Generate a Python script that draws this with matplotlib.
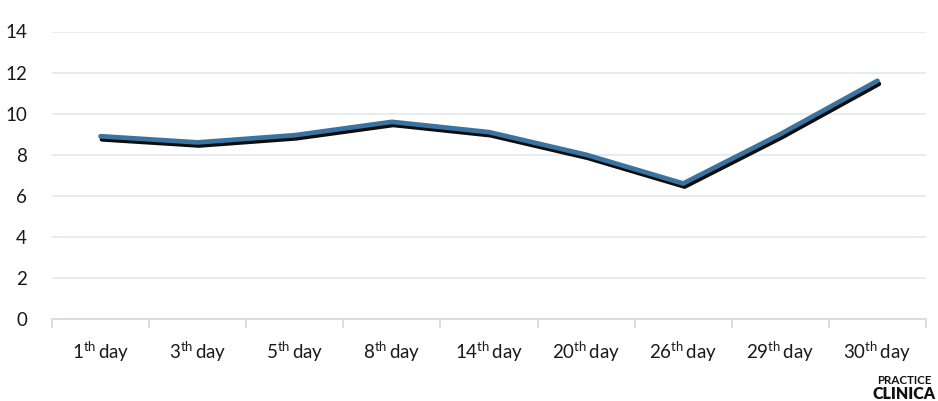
import matplotlib.pyplot as plt
import matplotlib.patheffects as pe
import numpy as np

plt.rcParams['font.family'] = ['Lato', 'DejaVu Sans']
plt.rcParams['mathtext.fontset'] = 'custom'
plt.rcParams['mathtext.rm'] = 'Lato'
plt.rcParams['mathtext.it'] = 'Lato:italic'
plt.rcParams['mathtext.bf'] = 'Lato:bold'

# Day labels and measured values
days = ["1", "3", "5", "8", "14", "20", "26", "29", "30"]
values = [8.9, 8.6, 8.95, 9.6, 9.1, 8.0, 6.6, 9.0, 11.6]
y_ticks = [0, 2, 4, 6, 8, 10, 12, 14]

fig = plt.figure(figsize=(9.38, 4.01), dpi=100)
ax = fig.add_axes([52 / 938, 1 - 319 / 401, (926 - 52) / 938, (319 - 31.5) / 401])

x = np.arange(len(days))
ax.plot(x, values, color='#3a72a0', linewidth=3.4, solid_capstyle='round',
        solid_joinstyle='round', zorder=3,
        path_effects=[pe.SimpleLineShadow(offset=(1.0, -2.2), shadow_color='black',
                                          alpha=0.95, rho=1.0),
                      pe.Normal()])

ax.set_xlim(-0.5, len(days) - 0.5)
ax.set_ylim(0, 14)
ax.set_yticks(y_ticks)
ax.set_yticklabels([str(v) for v in y_ticks])

# Category labels with superscript suffix
ax.set_xticks(x)
ax.set_xticklabels([rf"{d}$^{{\mathrm{{th}}}}\,$day" for d in days])
ax.set_xticks(np.arange(-0.5, len(days)), minor=True)

ax.grid(axis='y', color='#e8ebef', linewidth=1.4)
ax.set_axisbelow(True)
for s in ['top', 'right', 'left']:
    ax.spines[s].set_visible(False)
ax.spines['bottom'].set_color('#d9dde2')
ax.spines['bottom'].set_linewidth(1.4)

ax.tick_params(axis='y', length=0, pad=18, labelsize=13.5, labelcolor='#1a1a1a')
ax.tick_params(axis='x', which='major', length=0, pad=15, labelsize=13.5,
               labelcolor='#1a1a1a')
ax.tick_params(axis='x', which='minor', length=6.5, width=1.4, color='#d9dde2')

# Publisher mark in the corner
fig.text(877 / 938, 1 - 381 / 401, "PRACTICE", fontsize=8.3, fontweight='bold',
         color='#111111', va='center', ha='left')
fig.text(936 / 938, 1 - 394 / 401, "CLINICA", fontsize=11.5, fontweight='heavy',
         color='#111111', va='center', ha='right')

fig.savefig('out.png', dpi=100)
